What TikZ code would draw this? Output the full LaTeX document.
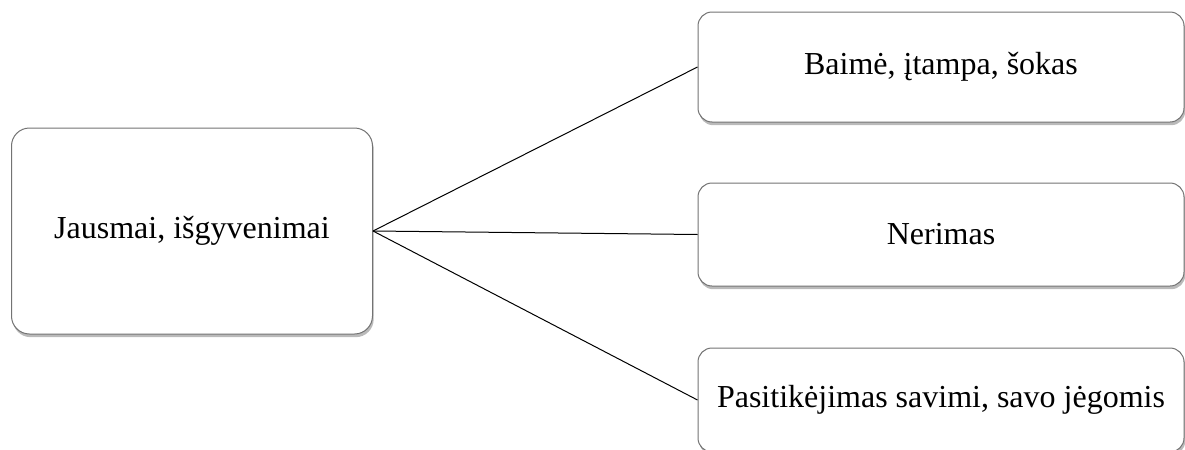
\documentclass[tikz,border=0pt]{standalone}
\usepackage{fontspec}
\setmainfont{Liberation Serif}
\usetikzlibrary{shadows}
\begin{document}
\begin{tikzpicture}[x=0.5pt,y=-0.5pt,
  card/.style={draw=black!55, line width=0.5pt, fill=white, rounded corners=7pt,
    drop shadow={shadow xshift=0.6pt, shadow yshift=-1.6pt, opacity=0.45, fill=black!60},
    align=center, inner sep=0pt, font=\fontsize{16}{19}\selectfont},
  link/.style={draw=black, line width=0.5pt}]
  \useasboundingbox (0,0) rectangle (1185,450);
  \clip (0,0) rectangle (1185,450);
  % central topic
  \node[card, rounded corners=9pt, minimum width=180.5pt, minimum height=103pt] (L) at (192,231) {Jausmai, išgyvenimai};
  % branches
  \node[card, minimum width=243pt, minimum height=55pt] (A) at (941,67) {Baimė, įtampa, šokas};
  \node[card, minimum width=243pt, minimum height=51.5pt] (B) at (941,234.5) {Nerimas};
  \node[card, minimum width=243pt, minimum height=52pt] (C) at (941,400) {Pasitikėjimas savimi, savo jėgomis};
  % connectors
  \draw[link] (L.east) -- (A.west);
  \draw[link] (L.east) -- (B.west);
  \draw[link] (L.east) -- (C.west);
\end{tikzpicture}
\end{document}
